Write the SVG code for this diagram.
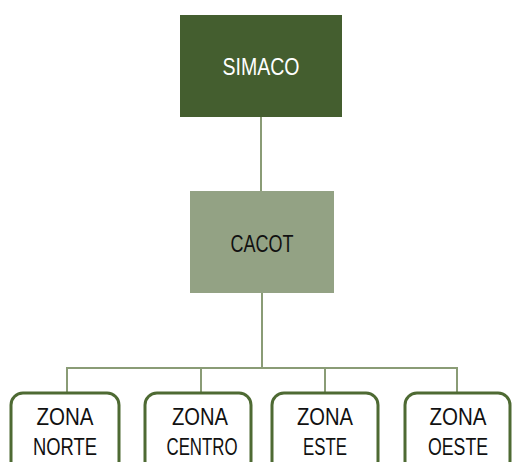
<svg xmlns="http://www.w3.org/2000/svg" width="512" height="462" viewBox="0 0 512 462">
  <style>
    .lbl { font-family: "Liberation Sans", "DejaVu Sans", sans-serif; font-size: 23px; text-anchor: middle; }
    .dark { fill: #ffffff; }
    .ink { fill: #111111; }
    .zone { fill: #ffffff; stroke: #4e6a33; stroke-width: 3; }
    .wire { fill: none; stroke: #8a9c76; stroke-width: 2; }
  </style>
  <rect width="512" height="462" fill="#ffffff"/>

  <g id="connectors">
    <line class="wire" x1="261" y1="117" x2="261" y2="192"/>
    <line class="wire" x1="262" y1="293" x2="262" y2="368"/>
    <polyline class="wire" points="67,392 67,368 457,368 457,392"/>
    <line class="wire" x1="201" y1="368" x2="201" y2="392"/>
    <line class="wire" x1="325" y1="368" x2="325" y2="392"/>
  </g>

  <g id="simaco">
    <rect x="180" y="15" width="162" height="102" fill="#445e2f"/>
    <text class="lbl dark" x="261" y="75" textLength="77" lengthAdjust="spacingAndGlyphs">SIMACO</text>
  </g>

  <g id="cacot">
    <rect x="190" y="191" width="144" height="102" fill="#93a284"/>
    <text class="lbl ink" x="262" y="252" textLength="63" lengthAdjust="spacingAndGlyphs">CACOT</text>
  </g>

  <g id="zona-norte">
    <rect class="zone" x="11" y="393" width="108" height="80" rx="12"/>
    <text class="lbl ink" x="65" y="425" textLength="57" lengthAdjust="spacingAndGlyphs">ZONA</text>
    <text class="lbl ink" x="65" y="455" textLength="64" lengthAdjust="spacingAndGlyphs">NORTE</text>
  </g>

  <g id="zona-centro">
    <rect class="zone" x="145" y="393" width="106" height="80" rx="12"/>
    <text class="lbl ink" x="200" y="425" textLength="56" lengthAdjust="spacingAndGlyphs">ZONA</text>
    <text class="lbl ink" x="202" y="455" textLength="71" lengthAdjust="spacingAndGlyphs">CENTRO</text>
  </g>

  <g id="zona-este">
    <rect class="zone" x="272" y="393" width="106" height="80" rx="12"/>
    <text class="lbl ink" x="325" y="425" textLength="56" lengthAdjust="spacingAndGlyphs">ZONA</text>
    <text class="lbl ink" x="325" y="455" textLength="44" lengthAdjust="spacingAndGlyphs">ESTE</text>
  </g>

  <g id="zona-oeste">
    <rect class="zone" x="405" y="393" width="105" height="80" rx="12"/>
    <text class="lbl ink" x="458" y="425" textLength="57" lengthAdjust="spacingAndGlyphs">ZONA</text>
    <text class="lbl ink" x="458" y="455" textLength="60" lengthAdjust="spacingAndGlyphs">OESTE</text>
  </g>
</svg>
